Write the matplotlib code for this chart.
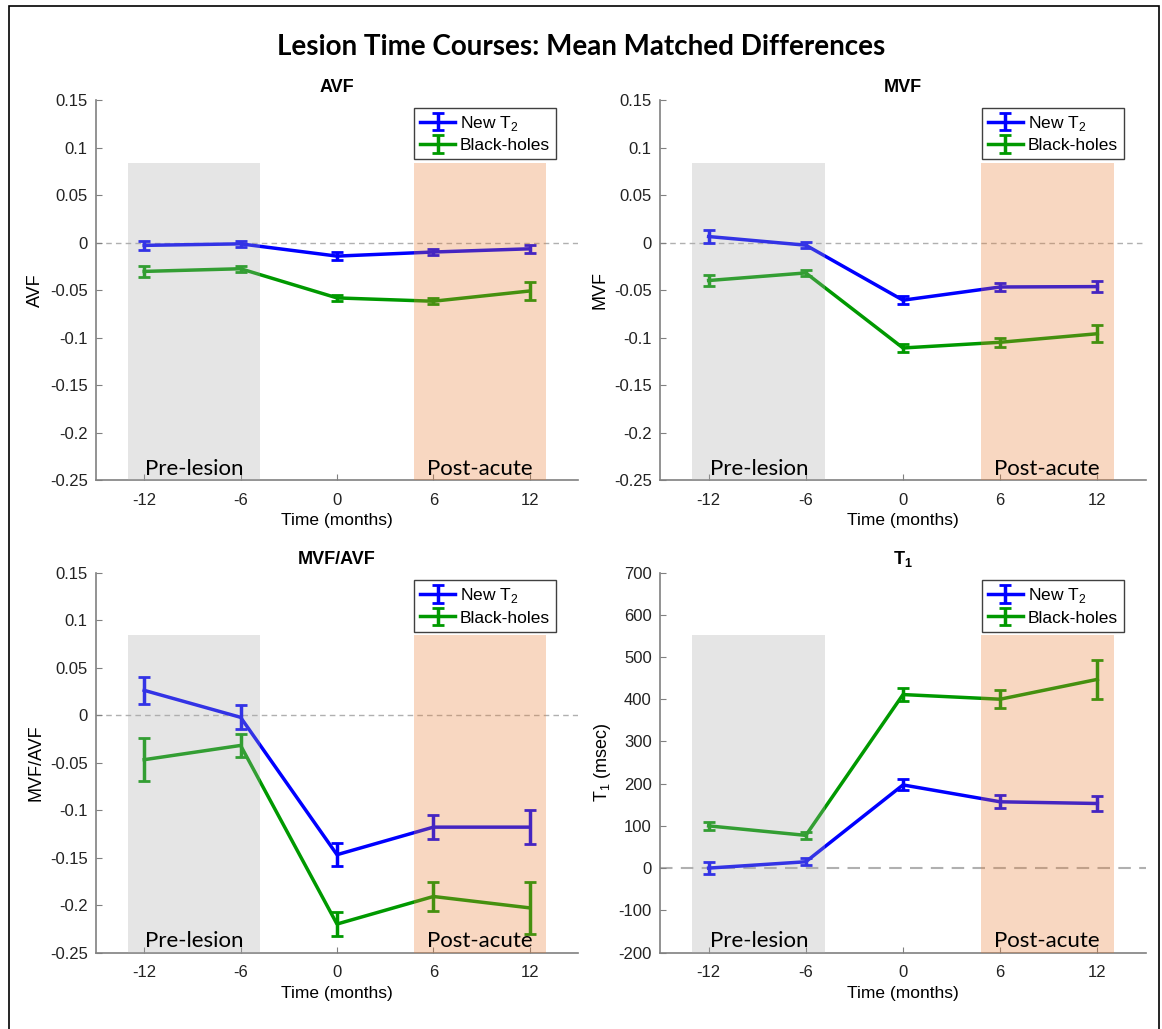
#!/usr/bin/env python3

import numpy as np
from matplotlib import pyplot as plt
from matplotlib.patches import Rectangle

plt.rcParams['font.family'] = ['Liberation Sans', 'DejaVu Sans']
plt.rcParams['mathtext.fontset'] = 'custom'
plt.rcParams['mathtext.rm'] = 'Liberation Sans'
plt.rcParams['mathtext.bf'] = 'Liberation Sans:bold'
plt.rcParams['axes.unicode_minus'] = False

# Time points (months relative to lesion appearance)
months = [-12, -6, 0, 6, 12]

# AVF
avf_new = [-0.003, -0.0014, -0.0143, -0.010, -0.0066]
avf_new_err = [0.0045, 0.003, 0.004, 0.0035, 0.0045]
avf_bh = [-0.0304, -0.0276, -0.0583, -0.0618, -0.051]
avf_bh_err = [0.006, 0.003, 0.003, 0.003, 0.009]

# MVF
mvf_new = [0.0063, -0.0028, -0.0607, -0.0468, -0.0464]
mvf_new_err = [0.0065, 0.003, 0.004, 0.0045, 0.0055]
mvf_bh = [-0.040, -0.032, -0.111, -0.105, -0.096]
mvf_bh_err = [0.006, 0.003, 0.004, 0.005, 0.009]

# MVF/AVF
ratio_new = [0.026, -0.0024, -0.147, -0.118, -0.118]
ratio_new_err = [0.0143, 0.0126, 0.0122, 0.0124, 0.0178]
ratio_bh = [-0.047, -0.032, -0.220, -0.191, -0.203]
ratio_bh_err = [0.0227, 0.012, 0.013, 0.015, 0.027]

# T1
t1_new = [0, 15, 197, 157, 153]
t1_new_err = [15, 8, 13, 15, 17]
t1_bh = [100, 77.5, 411, 400, 447]
t1_bh_err = [9, 8, 15, 22, 46]

# Shaded periods
pre_span = [-13, -4.8]
post_span = [4.8, 13]

panels = [
    ('AVF', 'AVF', avf_new, avf_new_err, avf_bh, avf_bh_err),
    ('MVF', 'MVF', mvf_new, mvf_new_err, mvf_bh, mvf_bh_err),
    ('MVF/AVF', 'MVF/AVF', ratio_new, ratio_new_err, ratio_bh, ratio_bh_err),
    ('T$_\\mathbf{1}$', 'T$_1$ (msec)', t1_new, t1_new_err, t1_bh, t1_bh_err),
]

fig = plt.figure(figsize=(11.62, 10.29), dpi=100)

# Frame around the whole figure
fig.patches.append(Rectangle((9 / 1162, -0.01), 1150 / 1162, 1.01 - 6 / 1029,
                             transform=fig.transFigure, fill=False,
                             edgecolor='black', linewidth=1.2))

fig.text(0.5, 0.954, 'Lesion Time Courses: Mean Matched Differences',
         ha='center', va='center', fontsize=20, fontweight='bold',
         family=['Lato', 'DejaVu Sans'])

positions = [
    [0.0826, 0.5335, 0.4148, 0.3693],
    [0.568, 0.5335, 0.4182, 0.3693],
    [0.0826, 0.0743, 0.4148, 0.3693],
    [0.568, 0.0743, 0.4182, 0.3693],
]

blue = (0, 0, 1)
green = (0, 0.6, 0)

for i, (title, ylab, new, new_err, bh, bh_err) in enumerate(panels):
    ax = fig.add_axes(positions[i])
    is_t1 = i == 3

    ax.axhline(0, color='#b0b0b0', linestyle='--',
               linewidth=1.5 if is_t1 else 1.0,
               dashes=(6, 4) if is_t1 else (4, 3), zorder=1)

    ax.errorbar(months, new, yerr=new_err, color=blue, linewidth=2.5,
                elinewidth=2.5, capsize=4, capthick=2, label='New T$_2$', zorder=2)
    ax.errorbar(months, bh, yerr=bh_err, color=green, linewidth=2.5,
                elinewidth=2.5, capsize=4, capthick=2, label='Black-holes', zorder=2)

    ax.axvspan(pre_span[0], pre_span[1], ymin=0, ymax=0.835,
               facecolor=(0.667, 0.667, 0.667), alpha=0.3, linewidth=0, zorder=3)
    ax.axvspan(post_span[0], post_span[1], ymin=0, ymax=0.835,
               facecolor=(0.91, 0.49, 0.2), alpha=0.3, linewidth=0, zorder=3)

    ax.text(np.mean(pre_span), 0.003, 'Pre-lesion', transform=ax.get_xaxis_transform(),
            ha='center', va='bottom', fontsize=16, family=['Lato', 'DejaVu Sans'], zorder=5)
    ax.text(np.mean(post_span), 0.003, 'Post-acute', transform=ax.get_xaxis_transform(),
            ha='center', va='bottom', fontsize=16, family=['Lato', 'DejaVu Sans'], zorder=5)

    ax.set_xlim(-15, 15)
    ax.set_xticks(months)
    if is_t1:
        ax.set_ylim(-200, 700)
        ax.set_yticks(np.arange(-200, 701, 100))
    else:
        ax.set_ylim(-0.25, 0.15)
        ax.set_yticks(np.round(np.arange(-0.25, 0.151, 0.05), 2))
        ax.set_yticklabels(['-0.25', '-0.2', '-0.15', '-0.1', '-0.05', '0',
                            '0.05', '0.1', '0.15'])

    for side in ['top', 'right']:
        ax.spines[side].set_visible(False)
    for side in ['left', 'bottom']:
        ax.spines[side].set_color('#808080')
        ax.spines[side].set_linewidth(1.2)
    ax.tick_params(direction='in', length=4, color='#808080', labelsize=12,
                   labelcolor='#222222', pad=6)
    ax.tick_params(axis='x', pad=9)

    ax.set_xlabel('Time (months)', fontsize=12.5, labelpad=4)
    ax.set_ylabel(ylab, fontsize=13, labelpad=4)
    ax.set_title(title, fontsize=13, fontweight='bold', pad=6)

    leg = ax.legend(loc='upper right', bbox_to_anchor=(0.955, 0.98), borderaxespad=0,
                    fontsize=12.5, fancybox=False, framealpha=1, edgecolor='#404040',
                    handlelength=2.0, handletextpad=0.3, borderpad=0.35, labelspacing=0.3)
    leg.get_frame().set_linewidth(1.0)
    leg.set_zorder(10)

plt.savefig('out.png', dpi=100)
